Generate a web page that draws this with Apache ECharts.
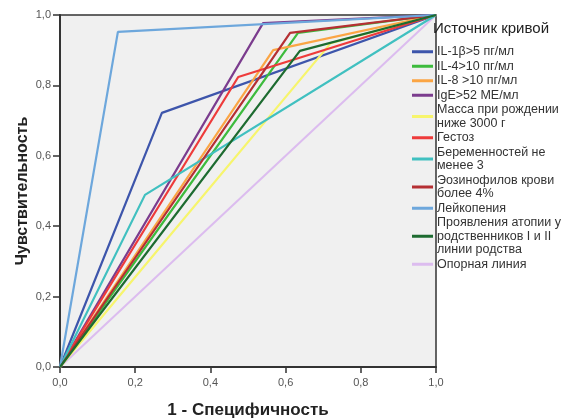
<!DOCTYPE html>
<html>
<head>
<meta charset="utf-8">
<script src="https://cdn.jsdelivr.net/npm/echarts@6/dist/echarts.min.js"></script>
<style>
html,body{margin:0;padding:0;background:#fff;}
#c{width:571px;height:420px;}
</style>
</head>
<body>
<div id="c"></div>
<script>
// Curve names (legend order)
const seriesNames = [
  'IL-1β>5 пг/мл',
  'IL-4>10 пг/мл',
  'IL-8 >10 пг/мл',
  'IgE>52 МЕ/мл',
  'Масса при рождении ниже 3000 г',
  'Гестоз',
  'Беременностей не менее 3',
  'Эозинофилов крови более 4%',
  'Лейкопения',
  'Проявления атопии у родственников I и II линии родства'
];
const legendLabels = [
  'IL-1β>5 пг/мл',
  'IL-4>10 пг/мл',
  'IL-8 >10 пг/мл',
  'IgE>52 МЕ/мл',
  'Масса при рождении\nниже 3000 г',
  'Гестоз',
  'Беременностей не\nменее 3',
  'Эозинофилов крови\nболее 4%',
  'Лейкопения',
  'Проявления атопии у\nродственников I и II\nлинии родства',
  'Опорная линия'
];
// ROC cut points: 1 - specificity and sensitivity
const cutFpr = [0.271, 0.633, 0.567, 0.540, 0.720, 0.474, 0.226, 0.612, 0.154, 0.638];
const cutTpr = [0.722, 0.949, 0.900, 0.977, 0.920, 0.824, 0.489, 0.949, 0.952, 0.898];
const refName = 'Опорная линия';
const refX = [0, 1];
const refY = [0, 1];
const colors = ['#3d55ab','#3dbb3d','#fba544','#7b3c8e','#f7f56c','#ee3b3b','#40c0c0','#b52f33','#6da7dc','#1d6b30'];
const refColor = '#dcbcef';
const xTicks = ['0,0','0,2','0,4','0,6','0,8','1,0'];

const series = seriesNames.map((n, i) => ({
  name: n,
  type: 'line',
  data: [[0, 0], [cutFpr[i], cutTpr[i]], [1, 1]],
  symbol: 'none',
  lineStyle: { color: colors[i], width: 2.2 },
  itemStyle: { color: colors[i] },
  z: 3
}));
series.push({
  name: refName,
  type: 'line',
  data: refX.map((x, i) => [x, refY[i]]),
  symbol: 'none',
  lineStyle: { color: refColor, width: 2 },
  itemStyle: { color: refColor },
  z: 2
});
const labelMap = {};
seriesNames.concat([refName]).forEach((n, i) => labelMap[n] = legendLabels[i]);

const chart = echarts.init(document.getElementById('c'), null, { renderer: 'canvas' });
chart.setOption({
  animation: false,
  backgroundColor: '#fff',
  grid: { left: 60, right: 135, top: 15, bottom: 53, containLabel: false, outerBoundsMode: 'none', show: true, backgroundColor: '#f0f0f0', borderColor: '#333', borderWidth: 1.5 },
  xAxis: {
    type: 'value', min: 0, max: 1, interval: 0.2,
    name: '1 - Специфичность', nameLocation: 'middle', nameGap: 35,
    nameTextStyle: { fontFamily: 'Liberation Sans', fontWeight: 'bold', fontSize: 17, color: '#222' },
    axisLine: { show: true, lineStyle: { color: '#333', width: 2 } },
    axisTick: { show: true, length: 6, lineStyle: { color: '#333', width: 1.5 } },
    axisLabel: { color: '#555', fontFamily: 'Liberation Sans', fontSize: 11, margin: 10, formatter: v => xTicks[Math.round(v / 0.2)] },
    splitLine: { show: false }
  },
  yAxis: {
    type: 'value', min: 0, max: 1, interval: 0.2,
    name: 'Чувствительность', nameLocation: 'middle', nameGap: 29, nameMoveOverlap: false,
    nameTextStyle: { fontFamily: 'Liberation Sans', fontWeight: 'bold', fontSize: 16, color: '#222' },
    axisLine: { show: true, lineStyle: { color: '#333', width: 2 } },
    axisTick: { show: true, length: 7, lineStyle: { color: '#333', width: 1.5 } },
    axisLabel: { color: '#555', fontFamily: 'Liberation Sans', fontSize: 11, margin: 9, formatter: v => xTicks[Math.round(v / 0.2)] },
    splitLine: { show: false }
  },
  legend: {
    orient: 'vertical', left: 412, top: 45, padding: 0, itemGap: 1,
    itemWidth: 21, itemHeight: 3, icon: 'rect',
    data: seriesNames.concat([refName]),
    formatter: n => labelMap[n],
    textStyle: { fontFamily: 'Liberation Sans', fontSize: 12.5, color: '#333', lineHeight: 13.5, padding: [0, 0, 0, -1] }
  },
  graphic: [{
    type: 'text', left: 433, top: 21,
    style: { text: 'Источник кривой', font: '15px "Liberation Sans"', fill: '#222' }
  }],
  series: series
});
</script>
</body>
</html>
